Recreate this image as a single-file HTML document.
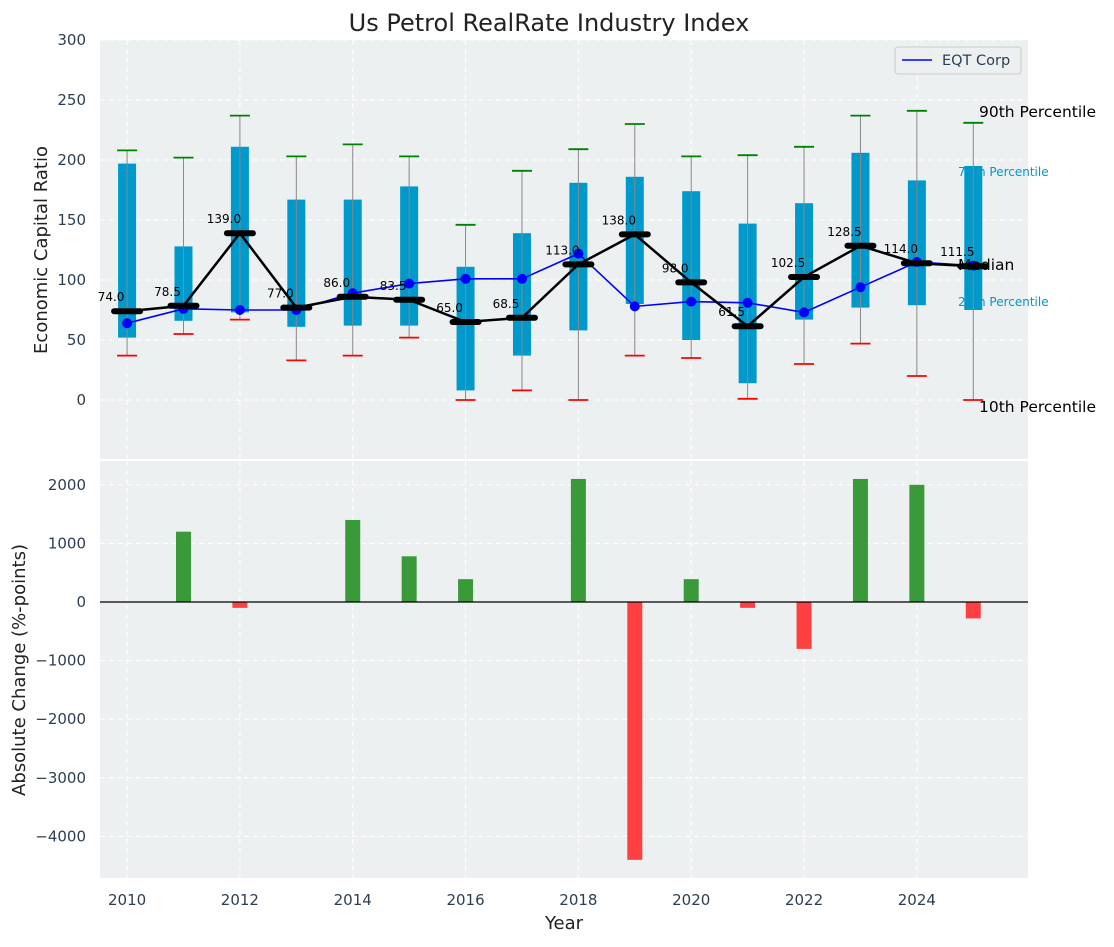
<!DOCTYPE html>
<html><head><meta charset="utf-8"><style>
body{margin:0;background:#fff;font-family:"Liberation Sans","DejaVu Sans",sans-serif}
svg text{font-family:"DejaVu Sans","Liberation Sans",sans-serif}
</style></head><body>
<svg id="c" width="1114" height="942" xmlns="http://www.w3.org/2000/svg"></svg>
<script>
const years=[2010,2011,2012,2013,2014,2015,2016,2017,2018,2019,2020,2021,2022,2023,2024,2025];
const p10=[37,55,67,33,37,52,0,8,0,37,35,1,30,47,20,0];
const p25=[52,66,73,61,62,62,8,37,58,80,50,14,67,77,79,75];
const p75=[197,128,211,167,167,178,111,139,181,186,174,147,164,206,183,195];
const p90=[208,202,237,203,213,203,146,191,209,230,203,204,211,237,241,231];
const medians=[74,78.5,139,77,86,83.5,65,68.5,113,138,98,61.5,102.5,128.5,114,111.5];
const eqt=[64,76,75,75,89,97,101,101,122,78,82,81,73,94,115,112];
const changes=[0,1200,-100,0,1400,780,390,0,2100,-4400,390,-100,-800,2100,2000,-280];
const topTicks=[0,50,100,150,200,250,300];
const botTicks=[-4000,-3000,-2000,-1000,0,1000,2000];
const xTicks=[2010,2012,2014,2016,2018,2020,2022,2024];

const svg=document.getElementById('c');const NS='http://www.w3.org/2000/svg';
function el(t,a,txt,p){const e=document.createElementNS(NS,t);for(const k in a)e.setAttribute(k,a[k]);if(txt!==undefined)e.textContent=txt;(p||svg).appendChild(e);return e;}
const L=100,R=1028;
const x=v=>L+(v-2009.52)/(2025.97-2009.52)*(R-L);
const T1=40,B1=459;const y1=v=>400-v*1.2;
const T2=461,B2=878;const y2=v=>602-v*0.0586;

const bg1=el('rect',{x:L,y:T1,width:R-L,height:B1-T1,fill:'#ecf0f1'});

const bg2=el('rect',{x:L,y:T2,width:R-L,height:B2-T2,fill:'#ecf0f1'});


topTicks.forEach(t=>{el('line',{x1:L,x2:R,y1:y1(t),y2:y1(t),stroke:'#fff','stroke-dasharray':'5,4'});
 const tx=el('text',{x:86,y:y1(t)+5,'text-anchor':'end','font-size':15,fill:'#2c3e50'},t);
 });
botTicks.forEach(t=>{el('line',{x1:L,x2:R,y1:y2(t),y2:y2(t),stroke:'#fff','stroke-dasharray':'5,4'});
 const tx=el('text',{x:86,y:y2(t)+5,'text-anchor':'end','font-size':15,fill:'#2c3e50'},t===0?'0':(t<0?'\u2212'+(-t):t));
 });
xTicks.forEach(t=>{el('line',{x1:x(t),x2:x(t),y1:T1,y2:B1,stroke:'#fff','stroke-dasharray':'5,4'});
 el('line',{x1:x(t),x2:x(t),y1:T2,y2:B2,stroke:'#fff','stroke-dasharray':'5,4'});
 const tx=el('text',{x:x(t),y:905,'text-anchor':'middle','font-size':15,fill:'#2c3e50'},t);
 });

years.forEach((yr,i)=>{const cx=x(yr);
 const b=el('rect',{x:cx-9,y:y1(p75[i]),width:18,height:y1(p25[i])-y1(p75[i]),fill:'#0099cc'});
 
 el('line',{x1:cx,x2:cx,y1:y1(p10[i]),y2:y1(p90[i]),stroke:'#888','stroke-width':1});
 el('line',{x1:cx-10,x2:cx+10,y1:y1(p10[i]),y2:y1(p10[i]),stroke:'red','stroke-width':1.8});
 el('line',{x1:cx-10,x2:cx+10,y1:y1(p90[i]),y2:y1(p90[i]),stroke:'green','stroke-width':1.8});
});
let ep=years.map((yr,i)=>x(yr)+','+y1(eqt[i])).join(' ');
const el1=el('polyline',{points:ep,fill:'none',stroke:'blue','stroke-width':1.6});

years.forEach((yr,i)=>{const d=el('circle',{cx:x(yr),cy:y1(eqt[i]),r:5,fill:'blue'});
 });
let mp=years.map((yr,i)=>x(yr)+','+y1(medians[i])).join(' ');
const ml=el('polyline',{points:mp,fill:'none',stroke:'#000','stroke-width':2.5});

years.forEach((yr,i)=>{const cx=x(yr);
 const m=el('line',{x1:cx-13,x2:cx+13,y1:y1(medians[i]),y2:y1(medians[i]),stroke:'#000','stroke-width':6,'stroke-linecap':'round'});
 
 const t=el('text',{x:cx-16,y:y1(medians[i])-10,'text-anchor':'middle','font-size':12,fill:'#000'},medians[i].toFixed(1));
 
});
[['90th Percentile',979,117,15.5,'#000'],['75th Percentile',958,176,12,'#0099cc'],['Median',958,270,15.5,'#000'],['25th Percentile',958,306,12,'#0099cc'],['10th Percentile',979,412,15.5,'#000']].forEach(a=>{
 const t=el('text',{x:a[1],y:a[2],'font-size':a[3],fill:a[4]},a[0]);});

years.forEach((yr,i)=>{if(!changes[i])return;const v=changes[i];
 const b=el('rect',{x:x(yr)-7.5,y:Math.min(y2(v),y2(0)),width:15,height:Math.abs(y2(v)-y2(0)),fill:v>0?'#3a9a3a':'#ff4040'});
 });
el('line',{x1:L,x2:R,y1:y2(0),y2:y2(0),stroke:'#000','stroke-width':1.2});

const lg=el('g',{});
el('rect',{x:895,y:47,width:126,height:27,rx:3,fill:'#ecf0f1',stroke:'#ccc'},undefined,lg);
el('line',{x1:902,x2:932,y1:60,y2:60,stroke:'blue','stroke-width':1.6},undefined,lg);
el('text',{x:942,y:65,'font-size':14.5,fill:'#2c3e50'},'EQT Corp',lg);

const ti=el('text',{x:549,y:31,'text-anchor':'middle','font-size':24,fill:'#222'},'Us Petrol RealRate Industry Index');

const yt=el('text',{x:0,y:0,'text-anchor':'middle','font-size':18,fill:'#222',transform:'translate(47,250) rotate(-90)'},'Economic Capital Ratio');

const yt2=el('text',{x:0,y:0,'text-anchor':'middle','font-size':18,fill:'#222',transform:'translate(25,670) rotate(-90)'},'Absolute Change (%-points)');

const xt=el('text',{x:564,y:929,'text-anchor':'middle','font-size':18,fill:'#222'},'Year');

</script></body></html>
